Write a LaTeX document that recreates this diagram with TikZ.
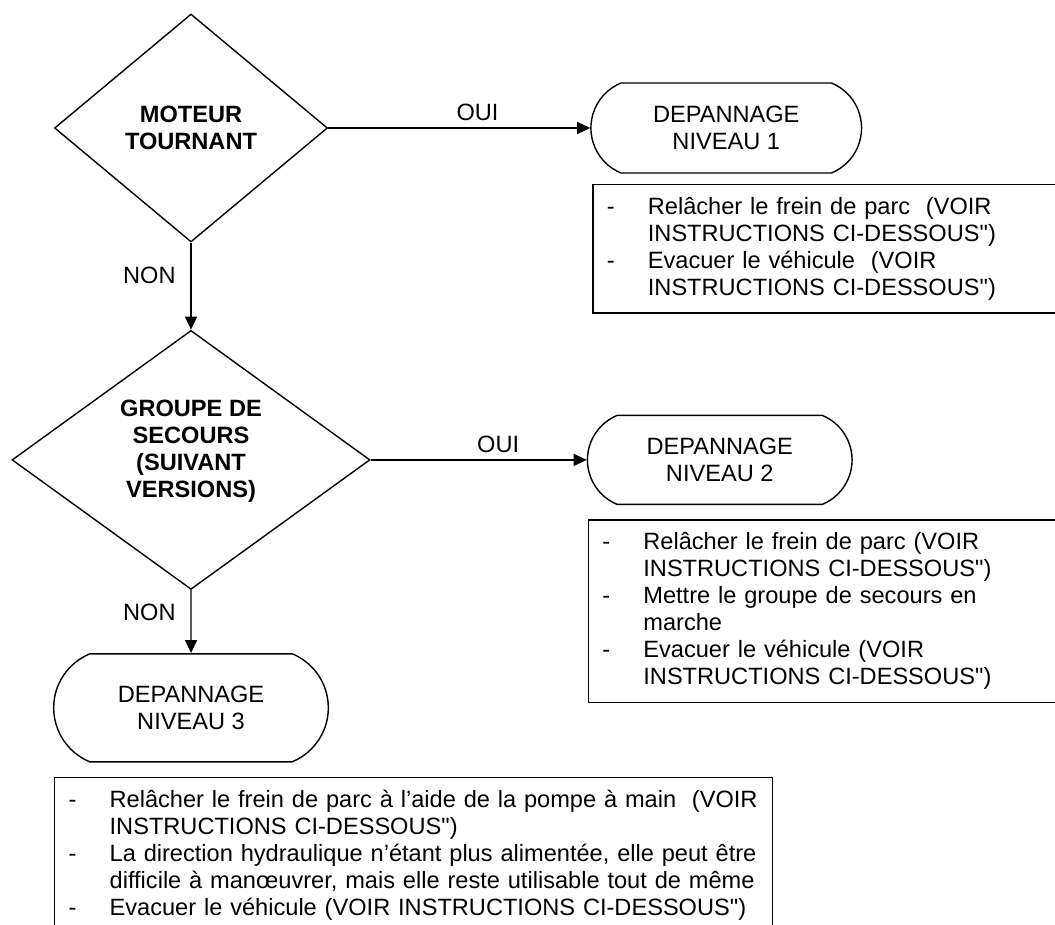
\documentclass[tikz,border=0pt]{standalone}
\usepackage{fontspec}
\setmainfont{Liberation Sans}[Ligatures=TeXOff]
\usetikzlibrary{positioning,shapes.geometric,shapes.misc,arrows.meta}

\newcommand{\puce}{\makebox[20.5pt][l]{-}}
\newcommand{\suite}{\hspace*{20.5pt}}

\begin{document}
\begin{tikzpicture}[>={Triangle[length=6.5pt,width=6pt]},line width=0.7pt,
    every node/.style={font=\fontsize{11.8}{13.5}\selectfont},
    question/.style={shape=diamond,draw,inner sep=0pt,aspect=1.38,align=center,font=\fontsize{11.8}{13.5}\selectfont\bfseries},
    niveau/.style={shape=rounded rectangle,rounded rectangle arc length=135,draw,align=center},
    consigne/.style={shape=rectangle,draw,inner xsep=7pt,inner ysep=6.4pt,align=left},
    ]
    \useasboundingbox (0,0) rectangle (527.5pt,-462.5pt);
    % the two questions
    \node (moteur) [question,minimum width=136.5pt,minimum height=114pt] at (95.5pt,-64pt) {MOTEUR\\TOURNANT};
    \node (groupe) [question,below=43.5pt of moteur,minimum width=179pt,minimum height=129.5pt,text depth=11pt] {GROUPE DE\\SECOURS\\(SUIVANT\\VERSIONS)};

    % the three levels
    \node (niv1) [niveau,right=131pt of moteur,minimum width=142pt,minimum height=45pt] {DEPANNAGE\\NIVEAU 1};
    \node (niv2) [niveau,right=108pt of groupe,minimum width=139pt,minimum height=44.5pt] {DEPANNAGE\\NIVEAU 2};
    \node (niv3) [niveau,below=31.5pt of groupe,minimum width=144pt,minimum height=54pt] {DEPANNAGE\\NIVEAU 3};

    % what to do at each level
    \coordinate (coin1) at (niv1.west |- niv1.south);
    \coordinate (coin2) at (niv2.west |- niv2.south);
    \coordinate (coin3) at (niv3.west |- niv3.south);
    \node (note1) [consigne,below right=5pt and 1pt of coin1,text width=225.5pt] {%
      \puce Relâcher le frein de parc~ (VOIR\\
      \suite INSTRUCTIONS CI-DESSOUS")\\
      \puce Evacuer le véhicule~ (VOIR\\
      \suite INSTRUCTIONS CI-DESSOUS")};
    \node (note2) [consigne,below right=7pt and 0.5pt of coin2,text width=227.5pt] {%
      \puce Relâcher le frein de parc (VOIR\\
      \suite INSTRUCTIONS CI-DESSOUS")\\
      \puce Mettre le groupe de secours en\\
      \suite marche\\
      \puce Evacuer le véhicule (VOIR\\
      \suite INSTRUCTIONS CI-DESSOUS")};
    \node (note3) [consigne,below right=7pt and 0.5pt of coin3,text width=345pt] {%
      \puce Relâcher le frein de parc à l’aide de la pompe à main~ (VOIR\\
      \suite INSTRUCTIONS CI-DESSOUS")\\
      \puce La direction hydraulique n’étant plus alimentée, elle peut être\\
      \suite difficile à manœuvrer, mais elle reste utilisable tout de même\\
      \puce Evacuer le véhicule (VOIR INSTRUCTIONS CI-DESSOUS")};

    % connect the nodes
    \draw[->] (moteur) -- node (oui1) [above,pos=0.57] {OUI} (niv1);
    \draw[->] (moteur) -- node (non1) [left=4pt,pos=0.38] {NON} (groupe);
    \draw[->] (groupe) -- node (oui2) [above,pos=0.59] {OUI} (niv2);
    \draw[->] (groupe) -- node (non2) [left=4pt,pos=0.35] {NON} (niv3);
\end{tikzpicture}
\end{document}
